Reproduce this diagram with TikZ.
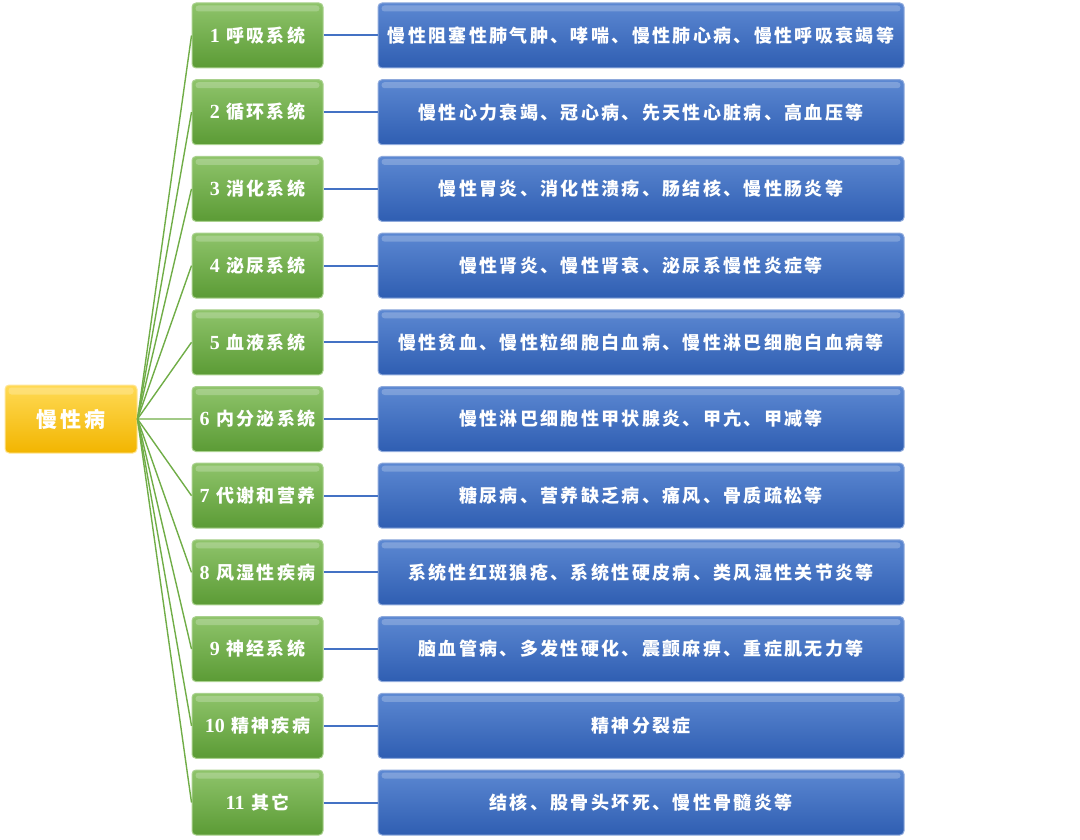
\documentclass[tikz,border=0pt]{standalone}
\usepackage{fontspec}
\newfontfamily\cjk{Noto Sans CJK SC}[LetterSpace=13]
\newfontfamily\digf{Liberation Serif}
\usetikzlibrary{calc}
\definecolor{gtop}{HTML}{8FC46B}
\definecolor{gbot}{HTML}{5B9B35}
\definecolor{gline}{HTML}{A9D18E}
\definecolor{btop}{HTML}{5C88D2}
\definecolor{bbot}{HTML}{2F5EB2}
\definecolor{bline}{HTML}{8FAADC}
\definecolor{ytop}{HTML}{FFDA55}
\definecolor{ybot}{HTML}{F2B500}
\definecolor{yline}{HTML}{FFE699}
\definecolor{gconnc}{HTML}{70AD47}
\definecolor{bconnc}{HTML}{4472C4}
\begin{document}
\begin{tikzpicture}[x=1pt,y=-1pt,
  box/.style={rounded corners=4pt, inner sep=0pt, text=white, line width=1pt,
    font=\cjk\bfseries\fontsize{18}{21}\selectfont},
  gbox/.style={box, top color=gtop, bottom color=gbot, draw=gline,
    minimum width=131pt, minimum height=65pt},
  bbox/.style={box, top color=btop, bottom color=bbot, draw=bline,
    minimum width=526pt, minimum height=65pt},
  ybox/.style={box, top color=ytop, bottom color=ybot, draw=yline,
    minimum width=132pt, minimum height=68pt, text=white,
    font=\cjk\bfseries\fontsize{21}{25}\selectfont},
  gconn/.style={draw=gconnc, line width=1.4pt},
  bconn/.style={draw=bconnc, line width=2pt},
  gloss/.style={fill=white, opacity=0.22, rounded corners=3pt}]
\useasboundingbox (0,0) rectangle (1080,840);
\node[ybox] (root) at (71,419) {慢性病};
\fill[gloss] ($(root.north west)+(4,3)$) rectangle ($(root.north east)+(-4,10)$);
\foreach \i/\nm/\tx in {
  1/呼吸系统/慢性阻塞性肺气肿、哮喘、慢性肺心病、慢性呼吸衰竭等,
  2/循环系统/慢性心力衰竭、冠心病、先天性心脏病、高血压等,
  3/消化系统/慢性胃炎、消化性溃疡、肠结核、慢性肠炎等,
  4/泌尿系统/慢性肾炎、慢性肾衰、泌尿系慢性炎症等,
  5/血液系统/慢性贫血、慢性粒细胞白血病、慢性淋巴细胞白血病等,
  6/内分泌系统/慢性淋巴细胞性甲状腺炎、甲亢、甲减等,
  7/代谢和营养/糖尿病、营养缺乏病、痛风、骨质疏松等,
  8/风湿性疾病/系统性红斑狼疮、系统性硬皮病、类风湿性关节炎等,
  9/神经系统/脑血管病、多发性硬化、震颤麻痹、重症肌无力等,
  10/精神疾病/精神分裂症,
  11/其它/结核、股骨头坏死、慢性骨髓炎等}{
  \pgfmathsetmacro{\yy}{35.5+(\i-1)*76.7}
  \node[gbox] (g\i) at (257.5,\yy) {{\digf\bfseries\fontsize{20}{21}\selectfont\i}\ \nm};
  \node[bbox] (b\i) at (641,\yy) {\tx};
  \fill[gloss] ($(g\i.north west)+(4,3)$) rectangle ($(g\i.north east)+(-4,9)$);
  \fill[gloss] ($(b\i.north west)+(4,3)$) rectangle ($(b\i.north east)+(-4,9)$);
  \draw[gconn] (root.east) -- (g\i.west);
  \draw[bconn] (g\i.east) -- (b\i.west);
}
\end{tikzpicture}
\end{document}
